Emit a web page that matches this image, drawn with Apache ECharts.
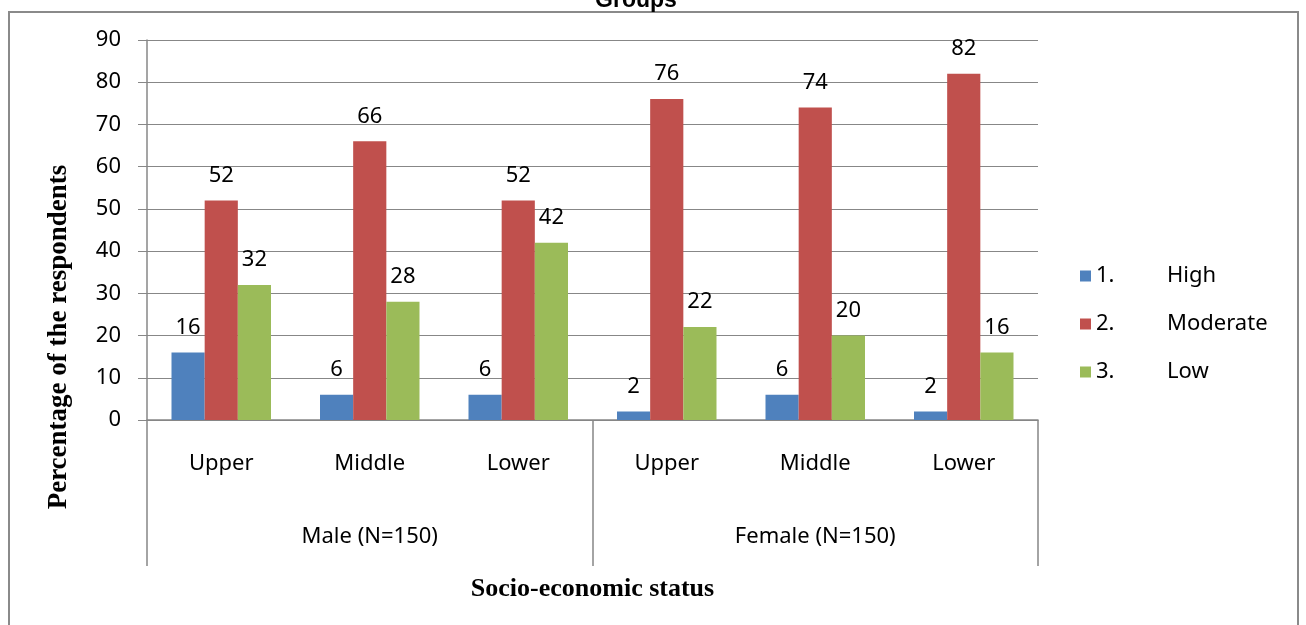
<!DOCTYPE html>
<html>
<head>
<meta charset="utf-8">
<script src="https://cdn.jsdelivr.net/npm/echarts@6/dist/echarts.min.js"></script>
<style>
  html, body { margin: 0; padding: 0; background: #fff; }
  #chart { width: 1306px; height: 625px; }
</style>
</head>
<body>
<div id="chart"></div>
<script>
// data
const statusLabels = ['Upper', 'Middle', 'Lower', 'Upper', 'Middle', 'Lower'];
const genderGroups = ['Male (N=150)', 'Female (N=150)'];
const levelNums = ['1.', '2.', '3.'];
const levelNames = ['High', 'Moderate', 'Low'];
const highVals = [16, 6, 6, 2, 6, 2];
const moderateVals = [52, 66, 52, 76, 74, 82];
const lowVals = [32, 28, 42, 22, 20, 16];
const yTicks = [0, 90, 10]; // min, max, step

const colors = ['#4F81BD', '#C0504D', '#9BBB59'];
const font = '"Noto Sans", "Open Sans", sans-serif';
const serif = '"Liberation Serif", "DejaVu Serif", serif';

let chart = echarts.init(document.getElementById('chart'));

function makeSeries(i, vals) {
  return {
    name: levelNums[i] + ' ' + levelNames[i],
    type: 'bar',
    data: vals,
    barGap: '0%',
    barCategoryGap: '33%',
    itemStyle: { color: colors[i] },
    label: {
      show: true,
      position: 'top',
      distance: 14,
      color: '#000',
      fontFamily: font,
      fontSize: 22
    }
  };
}

let option = {
  animation: false,
  backgroundColor: '#fff',
  color: colors,
  title: {
    text: 'Groups',
    left: 631,
    textAlign: 'center',
    top: -16,
    textStyle: { fontFamily: '"Liberation Sans", Arial, sans-serif', fontWeight: 'bold', fontSize: 23, color: '#000' }
  },
  graphic: [{
    type: 'rect',
    shape: { x: 9, y: 12, width: 1289, height: 640 },
    style: { fill: 'none', stroke: '#8a8a8a', lineWidth: 2 },
    z: -1
  }],
  legend: {
    orient: 'vertical',
    left: 1075,
    top: 260,
    itemWidth: 11,
    itemHeight: 11,
    itemGap: 26,
    icon: 'rect',
    formatter: function (name) {
      let parts = name.split(' ');
      return '{n|' + parts[0] + '}{l|' + parts[1] + '}';
    },
    textStyle: {
      color: '#000',
      fontFamily: font,
      fontSize: 22,
      rich: {
        n: { width: 71, fontFamily: font, fontSize: 22, color: '#000' },
        l: { fontFamily: font, fontSize: 22, color: '#000' }
      }
    }
  },
  grid: { left: 147, right: 268, top: 40, bottom: 205, containLabel: false },
  xAxis: [
    {
      type: 'category',
      data: statusLabels,
      position: 'bottom',
      axisLine: { show: true, lineStyle: { color: '#878787', width: 1.5 } },
      axisTick: { show: false },
      axisLabel: { margin: 33, color: '#000', fontFamily: font, fontSize: 22 }
    },
    {
      type: 'category',
      data: genderGroups,
      position: 'bottom',
      axisLine: { show: false },
      axisTick: { show: true, length: 146, alignWithLabel: false, lineStyle: { color: '#878787', width: 1.5 } },
      axisLabel: { margin: 106, color: '#000', fontFamily: font, fontSize: 22 },
      name: 'Socio-economic status',
      nameLocation: 'middle',
      nameGap: 156,
      nameTextStyle: { fontFamily: serif, fontWeight: 'bold', fontSize: 26, color: '#000' }
    }
  ],
  yAxis: {
    type: 'value',
    min: yTicks[0],
    max: yTicks[1],
    interval: yTicks[2],
    axisLine: { show: true, lineStyle: { color: '#878787', width: 1.5 } },
    axisTick: { show: true, length: 9, lineStyle: { color: '#878787' } },
    splitLine: { show: true, lineStyle: { color: '#878787', width: 1.2 } },
    axisLabel: { margin: 26, color: '#000', fontFamily: font, fontSize: 22 },
    name: 'Percentage of the respondents',
    nameLocation: 'middle',
    nameGap: 74,
    nameRotate: 90,
    nameTextStyle: { fontFamily: serif, fontWeight: 'bold', fontSize: 27, color: '#000', padding: [0, 214, 0, 0] }
  },
  series: [
    makeSeries(0, highVals),
    makeSeries(1, moderateVals),
    makeSeries(2, lowVals)
  ]
};

chart.setOption(option);
</script>
</body>
</html>
